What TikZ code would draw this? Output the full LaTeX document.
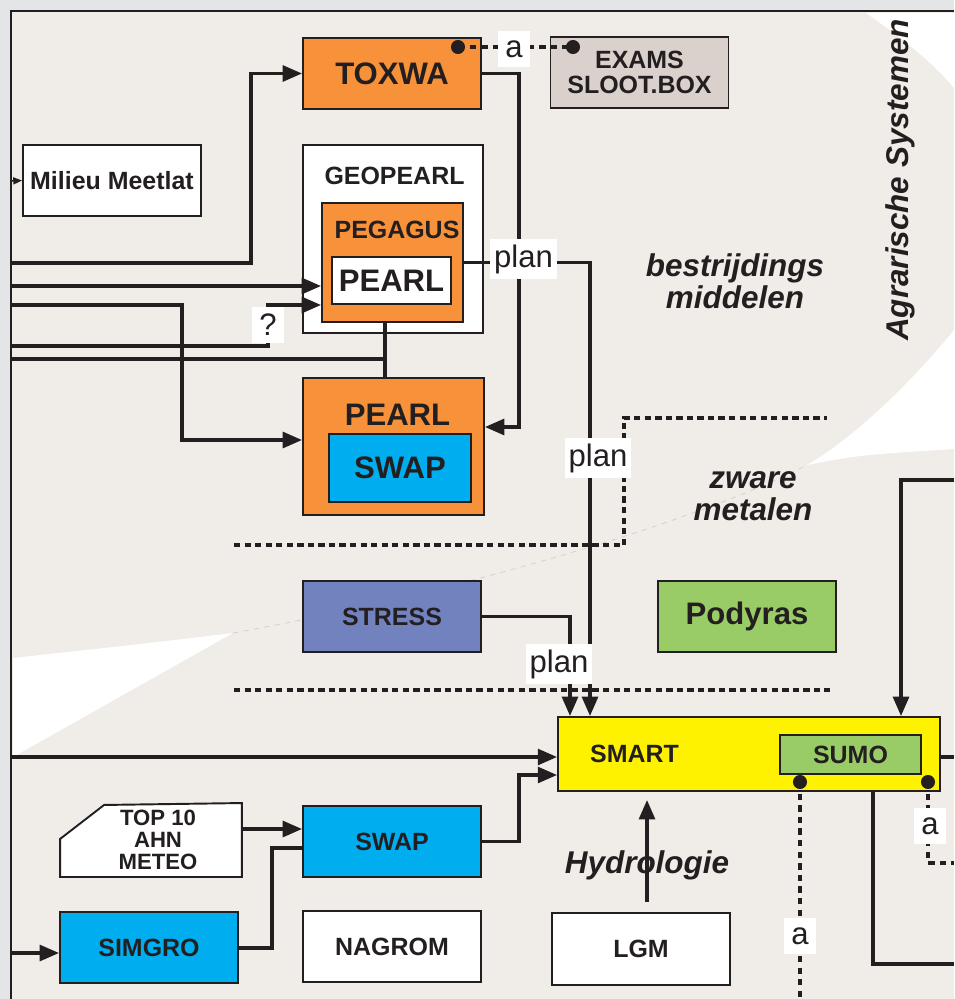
\documentclass[tikz,border=0pt]{standalone}
\usepackage{fontspec}
\setmainfont{Liberation Sans}
\usetikzlibrary{arrows.meta}

\definecolor{lijnkl}{HTML}{231F20}
\definecolor{oranje}{HTML}{F7923A}
\definecolor{blauw}{HTML}{00AEEF}
\definecolor{paars}{HTML}{7282BF}
\definecolor{groen}{HTML}{99CC66}
\definecolor{geel}{HTML}{FFF200}
\definecolor{zand}{HTML}{DAD1CC}
\definecolor{grond}{HTML}{F0ECE8}
\definecolor{rand}{HTML}{E4E5E7}
\definecolor{naad}{HTML}{D6CCC7}

\begin{document}
\begin{tikzpicture}[
  x=0.02cm, y=-0.02cm,
  >={Triangle[length=11pt,width=9pt]},
  doos/.style={draw=lijnkl, line width=1.1pt, fill=white,
               minimum width=3.56cm, minimum height=1.42cm,
               inner sep=0pt, align=center, text=lijnkl,
               font=\fontsize{14.2}{14.2}\selectfont\bfseries},
  groot/.style={font=\fontsize{17.7}{18}\selectfont\bfseries},
  kop/.style={anchor=base, text=lijnkl, inner sep=0pt,
              font=\fontsize{14.2}{14.2}\selectfont\bfseries},
  thema/.style={text=lijnkl, align=center,
                font=\fontsize{17.9}{18.2}\selectfont\bfseries\itshape},
  pijl/.style={->, line width=1.9pt, draw=lijnkl},
  lijn/.style={line width=1.9pt, draw=lijnkl},
  bord/.style={fill=white, text=lijnkl, inner xsep=2.3pt,
               minimum width=18pt, minimum height=20pt,
               font=\fontsize{17.7}{18}\selectfont},
  stippel/.style={line width=1.8pt, draw=lijnkl, dash pattern=on 3.6pt off 3pt},
  grens/.style={line width=1.9pt, draw=lijnkl, dash pattern=on 3.6pt off 2.4pt},
  stip/.style={fill=lijnkl}
]

%% Achtergrond en kader
\useasboundingbox (0,0) rectangle (954,999);
\fill[rand] (0,0) rectangle (954,999);
\fill[grond] (11,11) rectangle (954,999);
\fill[white] (866,13) .. controls (905,40) and (935,65) .. (954,88) |- cycle;
\fill[white] (954,330) .. controls (905,390) and (850,440) .. (807,465)
             .. controls (860,455) .. (954,449) -- cycle;
\fill[white] (233,633) .. controls (150,643) .. (13,658) -- (13,757) -- cycle;
\draw[naad, dashed, thin] (233,633) .. controls (420,600) and (680,530) .. (807,465);
\draw[lijnkl, line width=1.6pt] (954,11) -- (11,11) -- (11,999);

%% Scheidingen tussen de thema's
\draw[grens] (234,545) -- (624,545) -- (624,418) -- (827,418);
\draw[grens] (234,690) -- (830,690);

%% Thema's
\node[thema] at (735,281) {bestrijdings\\middelen};
\node[thema] at (753,496) {zware\\metalen};
\node[thema, anchor=base] at (647,873) {Hydrologie};
\node[thema, rotate=90, anchor=base] at (908,180) {Agrarische Systemen};

%% Bestrijdingsmiddelen
\node[doos, fill=oranje, groot] (toxwa) at (392,73.5) {TOXWA};
\node[doos, fill=zand] (exams) at (639.5,72.5) {EXAMS\\SLOOT.BOX};
\node[doos] (milieu) at (112,180.5) {Milieu Meetlat};
\node[doos, minimum width=3.6cm, minimum height=3.76cm] (geopearl) at (393,239) {};
\node[kop] at (394.5,185) {GEOPEARL};
\node[doos, fill=oranje, minimum width=2.82cm, minimum height=2.38cm] (pegagus) at (392.5,262.5) {};
\node[kop] at (397,239) {PEGAGUS};
\node[doos, groot, minimum width=2.38cm, minimum height=0.94cm] (pearla) at (391.5,280.5) {PEARL};
\node[doos, fill=oranje, minimum width=3.62cm, minimum height=2.74cm] (pearlb) at (393.5,446.5) {};
\node[kop, groot] at (397.5,425) {PEARL};
\node[doos, groot, fill=blauw, minimum width=2.84cm, minimum height=1.36cm] (swapa) at (400,468) {SWAP};

%% Zware metalen
\node[doos, fill=paars] (stress) at (392,616.5) {STRESS};
\node[doos, groot, fill=groen] (podyras) at (747,616.5) {Podyras};

%% Hydrologie
\node[doos, fill=geel, minimum width=7.64cm, minimum height=1.48cm] (smart) at (749,754) {};
\node[kop] at (634.5,762) {SMART};
\node[doos, fill=groen, minimum width=2.82cm, minimum height=0.78cm] (sumo) at (850.5,754.5) {SUMO};
\node[doos, draw=none, font=\fontsize{12.6}{12.7}\selectfont\bfseries,
      minimum width=3.6cm, minimum height=1.44cm] (top10) at (151,840)
      {\hspace*{0.28cm}TOP 10\\\hspace*{0.28cm}AHN\\\hspace*{0.28cm}METEO};
\fill[grond] (top10.north west) -- ++(44,0) -- ++(-44,34) -- cycle;
\draw[lijnkl, line width=1.1pt] (top10.south west) -- ++(0,-38) -- ++(44,-34)
  -- (top10.north east) -- (top10.south east) -- cycle;
\node[doos, fill=blauw] (swapb) at (392,841.5) {SWAP};
\node[doos, fill=blauw] (simgro) at (149,947.5) {SIMGRO};
\node[doos] (nagrom) at (392,946.5) {NAGROM};
\node[doos, minimum height=1.44cm] (lgm) at (641,949) {LGM};

%% Aansluitpunten op de rand
\coordinate (l0) at (11,181);
\coordinate (l1) at (11,263);
\coordinate (l2) at (11,286);
\coordinate (l3) at (11,305);
\coordinate (l4) at (11,346);
\coordinate (l5) at (11,359);
\coordinate (l6) at (11,757);
\coordinate (l7) at (11,953);
\coordinate (r1) at (954,480);
\coordinate (r2) at (954,757);
\coordinate (r3) at (954,964);
\coordinate (r4) at (954,863);
\coordinate (o1) at (800,999);

%% Invoer van links
\draw[lijn, line width=0.8pt, -{Triangle[length=5pt,width=4pt]}] (l0) -- (milieu.west);
\draw[pijl] (l1) -- (251,263) |- (toxwa.west);
\draw[pijl] (l2) -- (l2 -| pegagus.west);
\draw[pijl] (l3) -- (182,305) |- ([yshift=0.13cm]pearlb.west);
\draw[pijl] (l4) -| (268,305) -- (268,305 -| pegagus.west);
\draw[lijn] (l5) -- (385,359);
\draw[lijn] ([xshift=-0.15cm]pegagus.south) -- ([xshift=-0.15cm]pegagus.south |- pearlb.north);

%% TOXWA -> PEARL, PEGAGUS/STRESS -> SMART
\draw[pijl] (toxwa.east) -- (519,73.5) |- ([yshift=0.39cm]pearlb.east);
\draw[pijl] (pegagus.east) -| (smart.north -| 590,0);
\draw[pijl] (stress.east) -| (smart.north -| 570,0);
\node[bord] at (523.5,259) {plan};
\node[bord] at (598,458) {plan};
\node[bord] at (559,664) {plan};
\node[bord] at (268,325) {?};

%% Hydrologie
\draw[pijl] (l6) -- (l6 -| smart.west);
\draw[pijl] (swapb.east) -- (519,841.5) |- (smart.west |- 0,775);
\draw[pijl] (top10.east |- 0,829) -- (swapb.west |- 0,829);
\draw[lijn] (simgro.east |- 0,948) -- (272,948) |- (swapb.west |- 0,848);
\draw[pijl] (l7) -- (l7 -| simgro.west);
\draw[pijl] ([xshift=0.12cm,yshift=0.2cm]lgm.north) -- ([xshift=0.12cm]lgm.north |- 0,800);
\draw[pijl] (r1) -| (smart.north -| 901,0);
\draw[lijn] (smart.east |- r2) -- (r2);
\draw[lijn] (smart.south -| 873,0) |- (r3);

%% Koppelingen (a)
\coordinate (t1) at (458,47);
\coordinate (t2) at (573,47);
\coordinate (s1) at (800,782);
\coordinate (s2) at (928,782);
\draw[stippel] (t1) -- (t2);
\draw[stippel] (s1) -- (o1);
\draw[stippel] (s2) |- (r4);
\fill[stip] (t1) circle[radius=4pt];
\fill[stip] (t2) circle[radius=4pt];
\fill[stip] (s1) circle[radius=4pt];
\fill[stip] (s2) circle[radius=4pt];
\node[bord] at (514,49) {a};
\node[bord] at (800,936) {a};
\node[bord] at (930,826) {a};

\end{tikzpicture}
\end{document}
